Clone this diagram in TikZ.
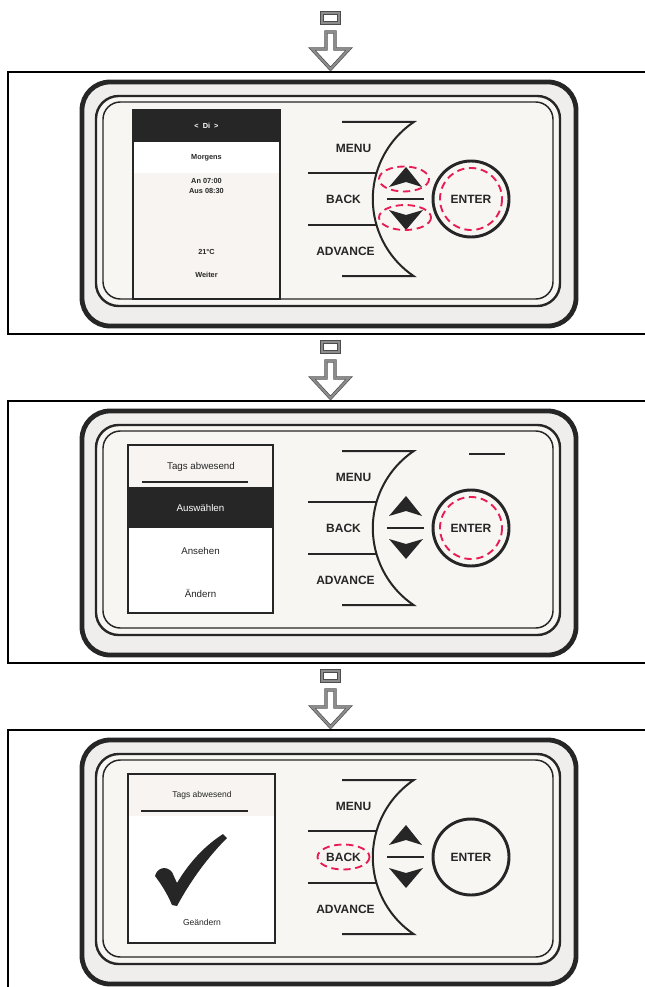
\documentclass[tikz,border=0pt]{standalone}
\usepackage{fontspec}
\setmainfont{Liberation Sans}
\usetikzlibrary{positioning, calc}

\definecolor{corpo}{RGB}{248,246,243}
\definecolor{bordo}{RGB}{240,238,236}
\definecolor{schermo}{RGB}{247,244,241}
\definecolor{nero}{RGB}{38,38,38}
\definecolor{rosso}{RGB}{232,28,82}

\begin{document}
\begin{tikzpicture}[
    x=0.75pt, y=-0.75pt,
    every node/.style={font=\fontsize{9}{10}\selectfont\bfseries, text=nero, inner sep=0pt},
    cornice/.style={draw=black, line width=2.2pt},
    freccia/.style={draw=black!70, line width=0.5pt, double=black!45, double distance=1.6pt},
    tasto/.style={font=\fontsize{9}{10}\selectfont\bfseries},
    riga/.style={font=\fontsize{5.5}{6.8}\selectfont\bfseries, align=center},
    voce/.style={font=\fontsize{7.3}{8.5}\selectfont},
    titolo/.style={font=\fontsize{6.4}{7.5}\selectfont},
    evid/.style={draw=rosso, line width=1.4pt, dash pattern=on 5.5pt off 3.5pt},
    segno/.style={draw=nero, line width=1.5pt}
]
\useasboundingbox (0,0) rectangle (644,987);

% --- Parti comuni: freccia, cornice, dispositivo e tasti ---
\foreach \i in {0,1,2} {
  \begin{scope}[shift={(0,\i*329)}]
    \draw[freccia] (322,13) rectangle (339,23);
    \draw[freccia] (326,32) -- (335,32) -- (335,49) -- (349,49) -- (330.5,69)
        -- (312,49) -- (326,49) -- cycle;
    \draw[cornice] (8,72) rectangle (660,334);
    \filldraw[fill=bordo, draw=nero, line width=3.6pt, rounded corners=21pt] (82,82) rectangle (576,326);
    \filldraw[fill=corpo, draw=nero, line width=1.8pt, rounded corners=17pt] (96,96) rectangle (560,306);
    \draw[nero, line width=1.1pt, rounded corners=13pt] (103,102) rectangle (553,299);
    % tasti a sinistra
    \draw[segno] (342,122) -- (413.8,122) arc[start angle=-124, end angle=-236, radius=93] -- (342,276);
    \draw[segno] (308,173) -- (376.6,173);
    \draw[segno] (308,225) -- (376.6,225);
    \node[tasto] (menu\i) at (353.5,148) {MENU};
    \node[tasto] (back\i) at (343.5,199) {BACK};
    \node[tasto] (adv\i) at (345.5,251.5) {ADVANCE};
    % frecce su/giu e ENTER
    \coordinate (su\i) at (404,179);
    \coordinate (giu\i) at (405,217.5);
    \fill[nero] (406,167) -- (422,187) -- (406,182) -- (389,187) -- cycle;
    \fill[nero] (389,210) -- (406,215) -- (423,210) -- (406,230) -- cycle;
    \draw[nero, line width=2.2pt] (387,199) -- (424,199);
    \node[tasto, circle, draw=nero, line width=2.2pt, minimum size=57pt] (enter\i) at (471,199) {ENTER};
  \end{scope}
}

% --- Schermo 1: programma del giorno ---
\fill[schermo] (133,110) rectangle (280,299);
\fill[white] (133,142) rectangle (280,173);
\fill[nero] (133,110) rectangle (280,142);
\draw[nero, line width=1.5pt] (133,110) rectangle (280,299);
\node[riga, text=white] (giorno) at (206.5,126) {<\ \ Di\ \ >};
\node[riga] (fascia) at (206.5,158) {Morgens};
\node[riga] (orari) at (206.5,186) {An 07:00\\Aus 08:30};
\node[riga] (temp) at (206.5,252) {21°C};
\node[riga] (avanti) at (206.5,275) {Weiter};

\draw[evid] (su0) ellipse [x radius=25, y radius=12.5];
\draw[evid] (giu0) ellipse [x radius=26, y radius=12.5];
\draw[evid] (enter0) circle [radius=31];

% --- Schermo 2: menu giorni di assenza ---
\fill[schermo] (128,445) rectangle (273,613);
\fill[white] (128,528) rectangle (273,613);
\fill[nero] (128,487) rectangle (273,528);
\draw[nero, line width=1.5pt] (128,445) rectangle (273,613);
\node[voce] (menu) at (201,467) {Tags abwesend};
\draw[nero, line width=1.2pt] (142,482) -- (248,482);
\node[voce, text=white] (scelta) at (200.5,508) {Auswählen};
\node[voce] (vedi) at (200.5,551) {Ansehen};
\node[voce] (modifica) at (200.5,593) {Ändern};
\draw[segno] (469,454) -- (505,454);

\draw[evid] (enter1) circle [radius=31];

% --- Schermo 3: conferma della modifica ---
\fill[schermo] (128,774) rectangle (275,943);
\fill[white] (128,816) rectangle (275,943);
\draw[nero, line width=1.5pt] (128,774) rectangle (275,943);
\node[titolo] (menu3) at (202,795) {Tags abwesend};
\draw[nero, line width=1.2pt] (141,811) -- (248,811);
\fill[nero] (155,876) .. controls (157,868) and (166,865) .. (172,872) -- (177,883)
    .. controls (190,861) and (206,845) .. (223,834) -- (227,838)
    .. controls (208,857) and (191,880) .. (177,906) -- (172,905)
    .. controls (167,893) and (161,884) .. (155,876) -- cycle;
\node[titolo] (fatto) at (202,922) {Geändern};

\draw[evid] (back2) ellipse [x radius=26, y radius=12.5];

\end{tikzpicture}
\end{document}
